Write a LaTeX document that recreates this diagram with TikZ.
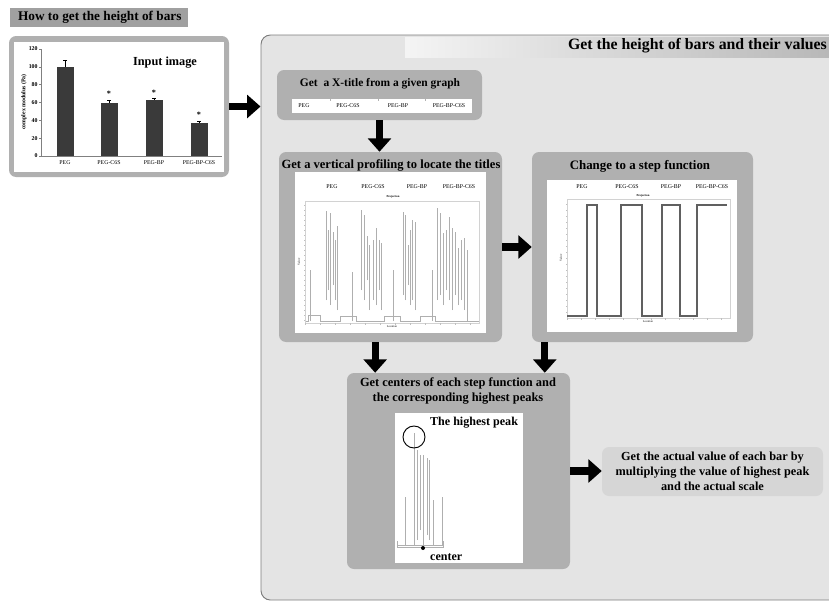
\documentclass[tikz,border=0pt]{standalone}
\usepackage{fontspec}
\setmainfont{Liberation Serif}
\usetikzlibrary{arrows.meta,positioning,shapes,backgrounds,fit}
\definecolor{panelgray}{RGB}{228,228,228}
\definecolor{boxgray}{RGB}{176,176,176}
\definecolor{finalgray}{RGB}{214,214,214}
\definecolor{headgray}{RGB}{160,160,160}
\definecolor{bargray}{RGB}{58,58,58}
\definecolor{spikegray}{RGB}{175,175,175}
\definecolor{edgegray}{RGB}{125,125,125}

\begin{document}
\begin{tikzpicture}[x=0.03cm,y=-0.03cm,
    panel/.style={rectangle,fill=panelgray,draw=edgegray,line width=0.8pt,rounded corners=8pt,inner sep=0pt},
    stepbox/.style={rectangle,fill=boxgray,rounded corners=6pt,inner sep=0pt},
    imgbox/.style={rectangle,fill=white,inner sep=0pt},
    title/.style={align=center,font=\fontsize{10.6}{12.8}\selectfont\bfseries},
    tick/.style={inner sep=1pt,font=\fontsize{5}{6}\selectfont},
    tiny/.style={inner sep=0pt,font=\fontsize{2.5}{3}\selectfont},
    spike/.style={spikegray,line width=0.35pt},
    bigarrow/.style={line width=0.22cm,-{Triangle[length=0.4cm,width=0.68cm]}}]

    \useasboundingbox (0,0) rectangle (829,602);
    \clip (0,0) rectangle (829,602);

    % Left part: input image
    \node[rectangle,fill=headgray,inner sep=0pt,fit={(10,8) (188,27)}] (howbar) {};
    \node[title,font=\fontsize{11.3}{13}\selectfont\bfseries,anchor=west] (howtext) at (14,17.5) {How to get the height of bars};
    \node[stepbox,fit={(9,36) (229,177)}] (inbox) {};
    \node[imgbox,fit={(14,42) (224,172)}] (inplot) {};
    \draw[gray] (41,49) -- (41,156) -- (222,156);
    \foreach \v in {0,20,...,120} {
        \draw[gray] (39,{156-0.892*\v}) -- (41,{156-0.892*\v});
        \node[tick,anchor=east,font=\fontsize{5}{6}\selectfont\bfseries] (ytick\v) at (39,{156-0.892*\v}) {\v};
    }
    \node[tick,rotate=90,font=\fontsize{5}{6}\selectfont\bfseries] (ylab) at (24,102) {complex modulus (Pa)};
    \foreach \xb/\v/\e/\lab [count=\i] in {65/100/107/PEG,109/59/62.5/PEG-C6S,154/63/64.5/PEG-BP,199/37/39.5/PEG-BP-C6S} {
        \fill[bargray] (\xb-8.5,156) rectangle (\xb+8.5,{156-0.892*\v});
        \draw[black] (\xb,{156-0.892*\v}) -- (\xb,{156-0.892*\e}) (\xb-2,{156-0.892*\e}) -- (\xb+2,{156-0.892*\e});
        \node[tick] (xlab\i) at (\xb,163) {\lab};
    }
    \foreach \xb/\v [count=\i] in {109/62.5,154/64.5,199/39.5}
        \node[tick,font=\fontsize{7}{7}\selectfont\bfseries] (star\i) at (\xb,{156-0.892*\v-6}) {*};
    \node[title,font=\fontsize{10.5}{12}\selectfont\bfseries] (inlabel) at (165,63) {Input image};

    % Right part: the big panel
    \node[panel,fit={(261,35) (860,600)}] (main) {};
    \node[rectangle,inner sep=0pt,left color=panelgray!40!white,right color=boxgray!85!panelgray,fit={(405,37) (829,57)}] (header) {};
    \node[title,font=\fontsize{13.5}{15}\selectfont\bfseries,anchor=east] (headtext) at (831,46) {Get the height of bars and their values};

    % 1. X-title
    \node[stepbox,fit={(277,70) (482,120)}] (xtitle) {};
    \node[title,font=\fontsize{9.8}{12}\selectfont\bfseries] (xtitletext) at (380,84) {Get\ \ a X-title from a given graph};
    \node[imgbox,fit={(292,99) (472,113)}] (xstrip) {};
    \foreach \xs in {330,378,425} \draw[gray!60] (\xs,99) -- (\xs,101);
    \foreach \xs/\lab [count=\i] in {304/PEG,348/PEG-C6S,398/PEG-BP,449/PEG-BP-C6S}
        \node[tick] (xs\i) at (\xs,106) {\lab};

    % 2. vertical profiling
    \node[stepbox,fit={(279,152) (502,342)}] (vprof) {};
    \node[title,font=\fontsize{10.7}{13}\selectfont\bfseries] (vproftext) at (391,165) {Get a vertical profiling to locate the titles};
    \node[imgbox,fit={(295,172) (486,333)}] (vplot) {};
    \foreach \xs/\lab [count=\i] in {332/PEG,373/PEG-C6S,417/PEG-BP,459/PEG-BP-C6S}
        \node[tick] (vs\i) at (\xs,187) {\lab};
    \node[tiny] (vproj) at (393,197) {\textbf{Projection}};
    \draw[gray!35,line width=0.3pt] (305,201) rectangle (479,323);
    \foreach \yt in {205,210,...,320} \draw[gray!50,line width=0.2pt] (304,\yt) -- (305,\yt);
    \foreach \xt in {305,320,...,479} \draw[gray!50,line width=0.2pt] (\xt,323) -- (\xt,324.5);
    \node[tiny,rotate=90] (vval) at (299,262) {Value};
    \node[tiny] (vloc) at (392,327) {Location};
    \draw[spike] (306,321) -- (308,321) -- (308,315) -- (320,315) -- (320,321) -- (340,321) -- (340,316) -- (356,316) -- (356,321)
        -- (384,321) -- (384,316) -- (400,316) -- (400,321) -- (420,321) -- (420,316) -- (435,316) -- (435,321) -- (479,321);
    \foreach \sx/\st/\sb in {310/270/321,326/211/300,328/230/290,330/213/305,333/232/285,335/240/300,337/226/310,352/272/321,
        361/210/290,364/215/300,367/236/280,369/245/310,373/240/300,376/228/305,379/240/290,381/243/310,393/270/321,
        403/212/295,405/215/300,408/245/285,410/230/305,412/220/300,415/222/310,432/270/321,
        437/208/300,440/213/295,443/233/305,446/230/290,449/217/300,452/228/310,455/232/295,458/248/305,461/240/300,464/238/310,467/250/321}
        \draw[spike] (\sx,\sb) -- (\sx,\st);

    % 3. step function
    \node[stepbox,fit={(532,152) (753,342)}] (step) {};
    \node[title,font=\fontsize{11}{13}\selectfont\bfseries] (steptext) at (640,166) {Change to a step function};
    \node[imgbox,fit={(547,180) (737,332)}] (splot) {};
    \foreach \xs/\lab [count=\i] in {582/PEG,627/PEG-C6S,671/PEG-BP,712/PEG-BP-C6S}
        \node[tick] (ss\i) at (\xs,187) {\lab};
    \node[tiny] (sproj) at (643,196) {\textbf{Projection}};
    \draw[gray!35,line width=0.3pt] (567,199) rectangle (730,318);
    \foreach \yt in {204,210,...,316} \draw[gray!50,line width=0.2pt] (566,\yt) -- (567,\yt);
    \foreach \xt in {567,581,...,730} \draw[gray!50,line width=0.2pt] (\xt,318) -- (\xt,319.5);
    \node[tiny,rotate=90] (sval) at (561,258) {Value};
    \node[tiny] (sloc) at (648,322) {Location};
    \draw[gray!75!black,line width=1.1pt] (567,316) -- (587,316) -- (587,205) -- (597,205) -- (597,316) -- (621,316) -- (621,205)
        -- (642,205) -- (642,316) -- (662,316) -- (662,205) -- (680,205) -- (680,316) -- (697,316) -- (697,205) -- (727,205);

    % 4. centers and highest peaks
    \node[stepbox,fit={(347,373) (570,569)}] (centers) {};
    \node[title] (centerstext) at (458,391) {Get centers of each step function and\\the corresponding highest peaks};
    \node[imgbox,fit={(395,413) (523,563)}] (cplot) {};
    \draw[spike] (397,545) -- (443,545) (397,547.5) -- (443,547.5) (397,541) -- (397,548) (443,541) -- (443,548);
    \foreach \sx/\st/\sb in {405/497/545,414/433/545,417/450/540,420/455/530,423/455/545,427/458/535,429/460/540,433/500/545,442/497/545}
        \draw[spike] (\sx,\sb) -- (\sx,\st);
    \draw[black,line width=0.8pt] (414,437) circle [radius=11];
    \node[title,font=\fontsize{10.3}{12}\selectfont\bfseries,anchor=west] (peaktext) at (426,423) {The highest peak};
    \fill[black] (423,548) circle [radius=2];
    \node[title,font=\fontsize{10.3}{12}\selectfont\bfseries,anchor=west] (centertext) at (426,557) {center};

    % 5. final value
    \node[stepbox,fill=finalgray,fit={(602,447) (823,496)}] (final) {};
    \node[title,font=\fontsize{10.5}{12.8}\selectfont\bfseries] (finaltext) at (final) {Get the actual value of each bar by\\multiplying the value of highest peak\\and the actual scale};

    % Flow arrows
    \draw[bigarrow] (inbox.east) -- (inbox.east -| main.west);
    \draw[bigarrow] (xtitle.south) -- (xtitle.south |- vprof.north);
    \draw[bigarrow] (vprof.east) -- (vprof.east -| step.west);
    \draw[bigarrow] ([xshift=-0.46cm]vprof.south) -- ([xshift=-0.46cm]vprof.south |- centers.north);
    \draw[bigarrow] ([xshift=0.39cm]step.south west) -- ([xshift=0.39cm]step.south west |- centers.north);
    \draw[bigarrow] (centers.east) -- (centers.east -| final.west);
\end{tikzpicture}
\end{document}
